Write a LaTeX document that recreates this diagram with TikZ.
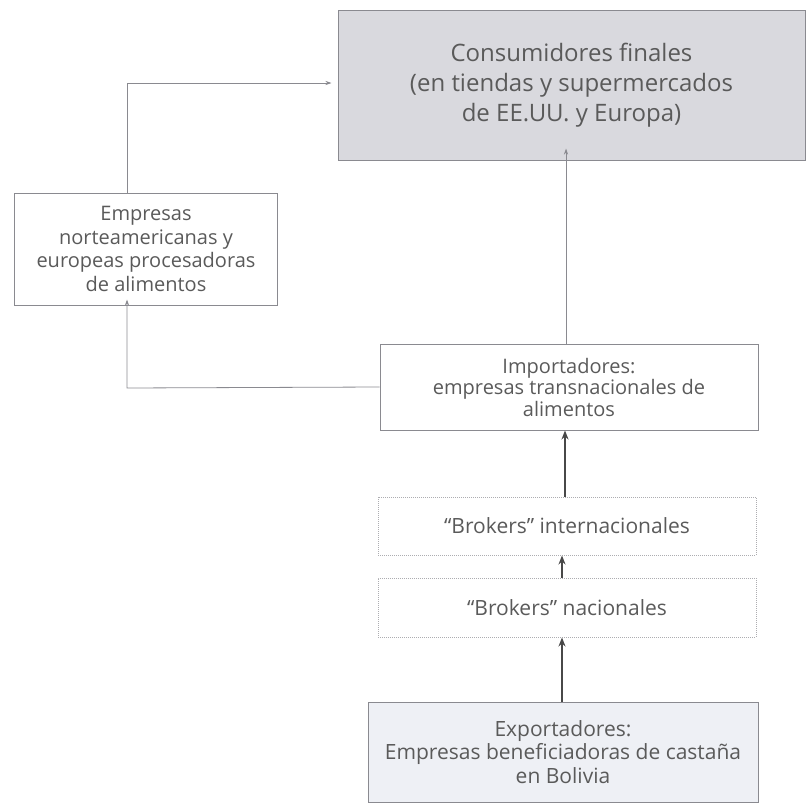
\documentclass[tikz,border=0pt]{standalone}
\usepackage{fontspec}
\setmainfont{Open Sans}
\usetikzlibrary{arrows.meta}
\definecolor{txt}{HTML}{5A5A5A}
\definecolor{edge}{HTML}{8A8A90}
\definecolor{topfill}{HTML}{D9D9DE}
\definecolor{botfill}{HTML}{EEF0F5}
\tikzset{
  box/.style={draw=edge, line width=1pt, text=txt, align=center, inner sep=0pt},
  dotbox/.style={draw=edge!70, line width=1pt, densely dotted, text=txt, align=center, inner sep=0pt},
  thin/.style={draw=edge, line width=0.8pt, -{Stealth[length=6pt,width=4pt]}},
  thick/.style={draw=txt!80!black, line width=2pt, -{Stealth[length=9pt,width=7pt]}},
}
\begin{document}
\begin{tikzpicture}[x=1pt,y=-1pt]
\useasboundingbox (0,0) rectangle (809,806);
\node[box, fill=topfill, minimum width=467pt, minimum height=150pt, font=\fontsize{24}{30}\selectfont] (cons) at (571.5,85)
  {Consumidores finales\\(en tiendas y supermercados\\de EE.UU. y Europa)};
\node[box, minimum width=263pt, minimum height=112pt, font=\fontsize{20}{23.5}\selectfont] (emp) at (146,249)
  {Empresas\\norteamericanas y\\europeas procesadoras\\de alimentos};
\node[box, minimum width=378pt, minimum height=86pt, font=\fontsize{20}{21.5}\selectfont] (imp) at (569,387)
  {Importadores:\\empresas transnacionales de\\alimentos};
\node[dotbox, minimum width=378pt, minimum height=58pt, font=\fontsize{21}{24}\selectfont] (bint) at (567,526)
  {``Brokers'' internacionales};
\node[dotbox, minimum width=378pt, minimum height=59pt, font=\fontsize{21}{24}\selectfont] (bnac) at (567,607.5)
  {``Brokers'' nacionales};
\node[box, fill=botfill, minimum width=390pt, minimum height=100pt, font=\fontsize{21}{23.5}\selectfont] (exp) at (563,752)
  {Exportadores:\\Empresas beneficiadoras de castaña\\en Bolivia};
\coordinate (c1) at (127,388);
\coordinate (c2) at (127,83);
\draw[thick] (exp.north -| 562,0) -- (bnac.south -| 562,0);
\draw[thick] (bnac.north -| 562,0) -- (bint.south -| 562,0);
\draw[thick] (bint.north -| 565,0) -- (imp.south -| 565,0);
\draw[thin] (imp.north -| 566,0) -- ([yshift=12pt]cons.south -| 566,0);
\draw[thin] (imp.west) -- (c1) -- ([yshift=6pt]emp.south -| c1);
\draw[thin] (emp.north -| c2) -- (c2) -- ([xshift=-6pt]cons.west |- c2);
\end{tikzpicture}
\end{document}
